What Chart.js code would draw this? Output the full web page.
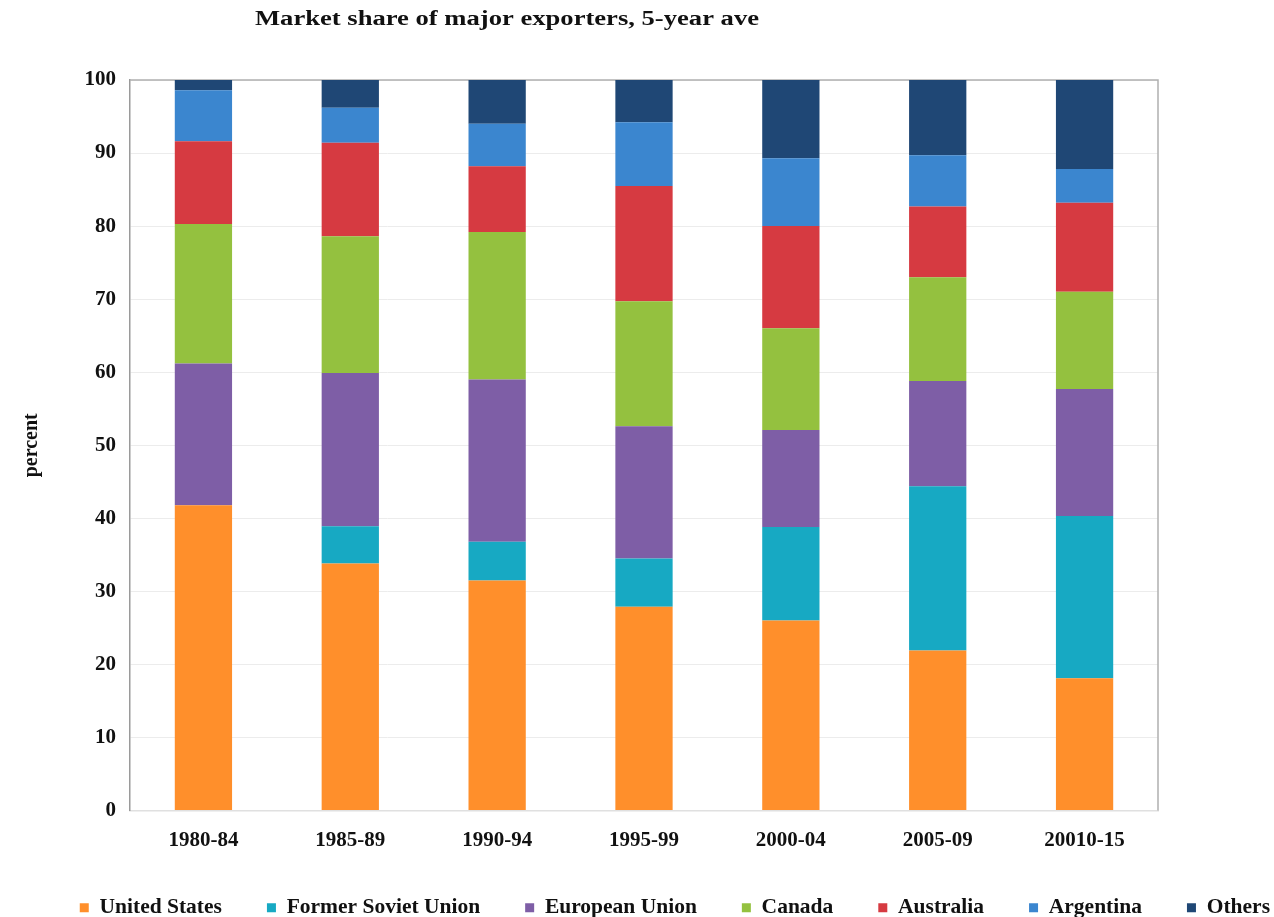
<!DOCTYPE html>
<html>
<head>
<meta charset="utf-8">
<script src="https://cdn.jsdelivr.net/npm/chart.js@4/dist/chart.umd.min.js"></script>
<style>
html,body{margin:0;padding:0;background:#fff;}
#wrap{width:1274px;height:917px;position:relative;}
</style>
</head>
<body>
<div id="wrap"><canvas id="c" width="1274" height="917"></canvas></div>
<script>
const categories = ["1980-84","1985-89","1990-94","1995-99","2000-04","2005-09","20010-15"];
const unitedStates = [41.8, 33.8, 31.5, 27.9, 26.0, 21.9, 18.1];
const formerSovietUnion = [0, 5.1, 5.3, 6.6, 12.8, 22.5, 22.2];
const europeanUnion = [19.4, 21.0, 22.2, 18.1, 13.3, 14.4, 17.4];
const canada = [19.1, 18.7, 20.2, 17.1, 13.9, 14.2, 13.3];
const australia = [11.3, 12.8, 9.0, 15.8, 14.0, 9.7, 12.2];
const argentina = [7.0, 4.8, 5.8, 8.7, 9.3, 7.0, 4.6];
const others = [1.4, 3.8, 6.0, 5.8, 10.7, 10.3, 12.2];
const yTicks = [0,10,20,30,40,50,60,70,80,90,100];

const serif = "'Liberation Serif','DejaVu Serif',serif";
const legendPad = 45;

const framePlugin = {
  id: 'frame',
  beforeDatasetsDraw(chart){
    const a = chart.chartArea, ctx = chart.ctx;
    ctx.save();
    ctx.strokeStyle = '#b0b0b0';
    ctx.lineWidth = 1.5;
    ctx.beginPath();
    ctx.moveTo(a.left, a.top); ctx.lineTo(a.right, a.top); ctx.lineTo(a.right, a.bottom);
    ctx.stroke();
    ctx.restore();
  },
  afterDraw(chart){
    const ctx = chart.ctx;
    ctx.save();
    ctx.font = "bold 20px " + serif;
    ctx.fillStyle = '#111';
    ctx.textAlign = 'center';
    ctx.textBaseline = 'middle';
    ctx.translate(507, 20);
    ctx.scale(1.33, 1);
    ctx.fillText("Market share of major exporters, 5-year ave", 0, 0);
    ctx.restore();
  }
};

new Chart(document.getElementById('c'), {
  type: 'bar',
  data: {
    labels: categories,
    datasets: [
      {label:'United States', data: unitedStates, backgroundColor:'#FF8F2B'},
      {label:'Former Soviet Union', data: formerSovietUnion, backgroundColor:'#17A9C3'},
      {label:'European Union', data: europeanUnion, backgroundColor:'#7E5EA6'},
      {label:'Canada', data: canada, backgroundColor:'#94C13F'},
      {label:'Australia', data: australia, backgroundColor:'#D63A41'},
      {label:'Argentina', data: argentina, backgroundColor:'#3B86CF'},
      {label:'Others', data: others, backgroundColor:'#1F4775'}
    ]
  },
  options: {
    responsive: false,
    animation: false,
    layout: { padding: { left: 0, right: -(legendPad - 4), top: 80, bottom: -11.5 } },
    datasets: { bar: { categoryPercentage: 1.0, barPercentage: 0.39, borderWidth: 0 } },
    plugins: {
      title: { display: false },
      tooltip: { enabled: false },
      legend: {
        position: 'bottom',
        align: 'end',
        labels: {
          font: { family: serif, size: 21.5, weight: 'bold' },
          color: '#111',
          boxWidth: 9, boxHeight: 9,
          padding: legendPad
        }
      }
    },
    scales: {
      x: {
        stacked: true,
        grid: { display: false, drawTicks: false },
        border: { display: true, color: '#e0e0e0', width: 1.5 },
        ticks: { font: { family: serif, size: 21, weight: 'bold' }, color: '#111', padding: 17 },
        afterFit(s){ s.height = 41.5; }
      },
      y: {
        stacked: true,
        min: 0, max: 100,
        afterBuildTicks(s){ s.ticks = yTicks.map(v => ({value: v})); },
        grid: { color: '#ececec', lineWidth: 1, drawTicks: false },
        border: { display: true, color: '#9a9a9a', width: 1.5 },
        ticks: { font: { family: serif, size: 21, weight: 'bold' }, color: '#111', padding: 14 },
        title: { display: true, text: 'percent', font: { family: serif, size: 20, weight: 'bold' }, color: '#111', padding: { top: 20, bottom: 0 } },
        afterFit(s){ s.width = 130; }
      },
      yRight: {
        position: 'right',
        display: true,
        grid: { display: false, drawTicks: false },
        border: { display: false },
        ticks: { display: false },
        afterFit(s){ s.width = 116 + (legendPad - 4); }
      }
    }
  },
  plugins: [framePlugin]
});
</script>
</body>
</html>
